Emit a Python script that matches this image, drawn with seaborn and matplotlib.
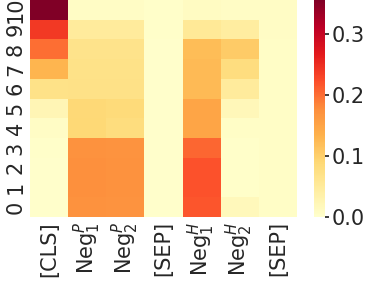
import numpy as np
import pandas as pd
import matplotlib
matplotlib.use("Agg")
import matplotlib.pyplot as plt
import seaborn as sns

tokens = ['[CLS]', r'Neg$_1^P$', r'Neg$_2^P$', '[SEP]', r'Neg$_1^H$', r'Neg$_2^H$', '[SEP] ']
tick_labels = ['[CLS]', r'Neg$_1^P$', r'Neg$_2^P$', '[SEP]', r'Neg$_1^H$', r'Neg$_2^H$', '[SEP]']
layers = list(range(11))

# attention per layer (rows 0..10), one list per token column
cls_att   = [0.002, 0.002, 0.002, 0.003, 0.008, 0.025, 0.07, 0.13, 0.20, 0.24, 0.356]
neg1p_att = [0.172, 0.174, 0.174, 0.172, 0.09, 0.088, 0.072, 0.07, 0.068, 0.05, 0.008]
neg2p_att = [0.170, 0.172, 0.172, 0.170, 0.082, 0.085, 0.072, 0.07, 0.068, 0.05, 0.008]
sep1_att  = [0.002, 0.002, 0.002, 0.002, 0.002, 0.002, 0.002, 0.002, 0.002, 0.003, 0.004]
neg1h_att = [0.218, 0.22, 0.22, 0.205, 0.15, 0.15, 0.125, 0.125, 0.122, 0.055, 0.01]
neg2h_att = [0.017, 0.004, 0.004, 0.004, 0.006, 0.02, 0.05, 0.08, 0.105, 0.045, 0.008]
sep2_att  = [0.006, 0.006, 0.006, 0.006, 0.006, 0.006, 0.006, 0.006, 0.006, 0.008, 0.008]

df = pd.DataFrame({
    tokens[0]: cls_att, tokens[1]: neg1p_att, tokens[2]: neg2p_att,
    tokens[3]: sep1_att, tokens[4]: neg1h_att, tokens[5]: neg2h_att,
    tokens[6]: sep2_att,
}, index=layers)

sns.set_theme(style="white")
fig = plt.figure(figsize=(3.67, 2.82), dpi=100)
ax = fig.add_axes([30 / 367, 65 / 282, 267 / 367, 217 / 282])
cax = fig.add_axes([314 / 367, 65 / 282, 11 / 367, 217 / 282])

sns.heatmap(df, cmap="YlOrRd", vmin=0, ax=ax, cbar_ax=cax)
ax.invert_yaxis()
ax.set_xticklabels(tick_labels, rotation=90, fontsize=15)
ax.set_yticklabels([str(i) for i in layers], rotation=90, fontsize=15, va='center')
ax.tick_params(axis='both', length=0, pad=3)
cax.set_yticks([0.0, 0.1, 0.2, 0.3])
cax.tick_params(labelsize=15, length=3, pad=2)

fig.savefig("out.png", dpi=100)
